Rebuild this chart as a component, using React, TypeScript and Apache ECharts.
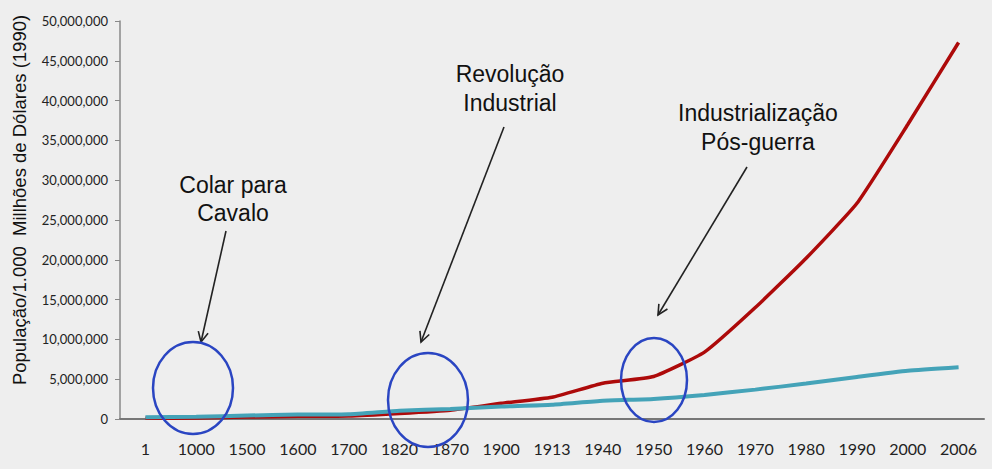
import React, { useEffect, useRef } from "react";
import * as echarts from "echarts";

const categories = ["1", "1000", "1500", "1600", "1700", "1820", "1870", "1900", "1913", "1940", "1950", "1960", "1970", "1980", "1990", "2000", "2006"];
const gdpValues = [105000, 121000, 248000, 331000, 371000, 695000, 1102000, 1973000, 2733000, 4500000, 5336000, 8400000, 14000000, 20200000, 27100000, 37000000, 47300000];
const popValues = [230000, 268000, 438000, 556000, 603000, 1041000, 1270000, 1563000, 1793000, 2300000, 2525000, 3026000, 3691000, 4449000, 5275000, 6055000, 6500000];
const yAxisTitle = "População/1.000  Millhões de Dólares (1990)";
const notes = [
  { lines: ["Colar para", "Cavalo"], tx: 233, ty: [185, 213], from: [226, 231], to: [201, 342], ell: [193, 388, 40, 46] },
  { lines: ["Revolução", "Industrial"], tx: 510, ty: [74, 103], from: [504, 127], to: [421, 342], ell: [428, 400, 40, 47] },
  { lines: ["Industrialização", "Pós-guerra"], tx: 758, ty: [113, 142], from: [747, 167], to: [658, 315], ell: [654, 380, 33, 42] },
];

export default function App() {
  const ref = useRef<HTMLDivElement>(null);
  useEffect(() => {
    if (!ref.current) return;
    const chart = echarts.init(ref.current, undefined, { renderer: "svg" });
    const textFont = '"Liberation Sans", Arial, sans-serif';
    const graphics: any[] = [];
    notes.forEach((n) => {
      n.lines.forEach((l, i) => {
        graphics.push({
          type: "text",
          x: n.tx,
          y: n.ty[i],
          style: { text: l, font: `23px ${textFont}`, fill: "#111", align: "center", verticalAlign: "middle" },
        });
      });
      const [sx, sy] = n.from;
      const [ex, ey] = n.to;
      const len = Math.hypot(ex - sx, ey - sy);
      const dx = (ex - sx) / len;
      const dy = (ey - sy) / len;
      graphics.push({
        type: "line",
        shape: { x1: sx, y1: sy, x2: ex, y2: ey },
        style: { stroke: "#222", lineWidth: 1.6 },
      });
      graphics.push({
        type: "polyline",
        shape: {
          points: [
            [ex - 10 * dx - 5 * dy, ey - 10 * dy + 5 * dx],
            [ex, ey],
            [ex - 10 * dx + 5 * dy, ey - 10 * dy - 5 * dx],
          ],
        },
        style: { stroke: "#222", lineWidth: 1.6, fill: "none" },
      });
      graphics.push({
        type: "ellipse",
        shape: { cx: n.ell[0], cy: n.ell[1], rx: n.ell[2], ry: n.ell[3] },
        style: { stroke: "#2a45c2", lineWidth: 2.5, fill: "none" },
        z: 100,
      });
    });
    graphics.push({
      type: "text",
      x: 19,
      y: 200,
      rotation: Math.PI / 2,
      style: { text: yAxisTitle, font: `18.5px ${textFont}`, fill: "#111", align: "center", verticalAlign: "middle" },
    });

    chart.setOption({
      animation: false,
      backgroundColor: "#eeeeee",
      grid: { left: 120, right: 8, top: 21, bottom: 50, containLabel: false },
      xAxis: {
        type: "category",
        data: categories,
        boundaryGap: true,
        axisLine: { lineStyle: { color: "#777", width: 2 } },
        axisTick: { show: false },
        axisLabel: { color: "#222", fontFamily: "Lato, sans-serif", fontSize: 16, margin: 21 },
      },
      yAxis: {
        type: "value",
        min: 0,
        max: 50000000,
        interval: 5000000,
        axisLine: { show: true, lineStyle: { color: "#888", width: 1.5 } },
        axisTick: { show: true, length: 5, lineStyle: { color: "#888" } },
        splitLine: { show: false },
        axisLabel: {
          color: "#222",
          fontFamily: "Lato, sans-serif",
          fontSize: 13,
          margin: 12,
          formatter: (v: number) => v.toLocaleString("en-US"),
        },
      },
      series: [
        {
          type: "line",
          data: gdpValues,
          smooth: 0.15,
          symbol: "none",
          lineStyle: { color: "#ad0a0a", width: 3.5 },
          z: 2,
        },
        {
          type: "line",
          data: popValues,
          smooth: 0.15,
          symbol: "none",
          lineStyle: { color: "#44a3b8", width: 4 },
          z: 3,
        },
      ],
      graphic: graphics,
    });
    return () => chart.dispose();
  }, []);
  return (
    <div
      ref={ref}
      style={{ position: "fixed", left: 0, top: 0, width: 992, height: 469 }}
    />
  );
}
